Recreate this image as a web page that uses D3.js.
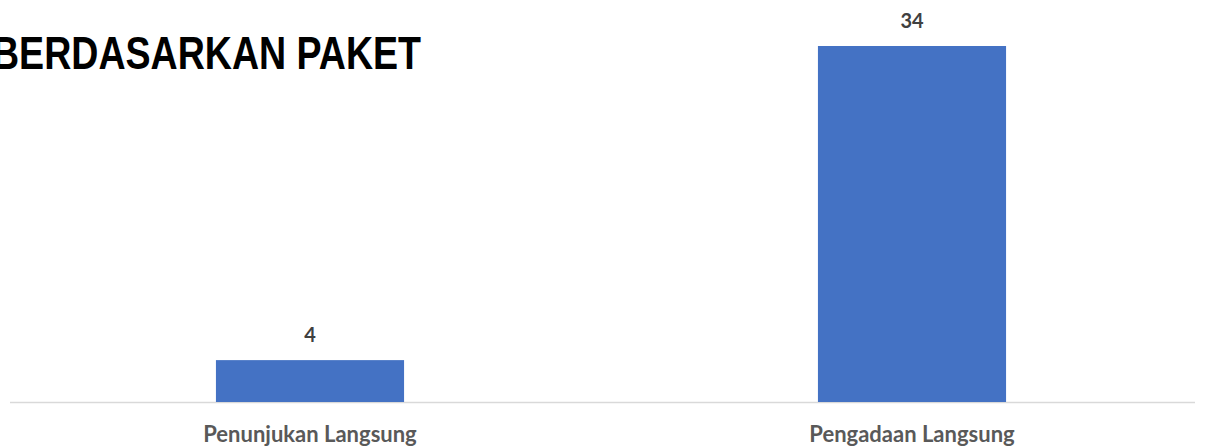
<!DOCTYPE html>
<html><head><meta charset="utf-8">
<script src="https://cdn.jsdelivr.net/npm/d3@7"></script>
<style>body{margin:0;background:#fff}svg{display:block}</style>
</head><body>
<script>
const categories = ["Penunjukan Langsung", "Pengadaan Langsung"];
const values = [4, 34];
const title = "BERDASARKAN PAKET";

const W = 1209, H = 447;
const svg = d3.select("body").append("svg").attr("width", W).attr("height", H);

const x = d3.scaleBand().domain(categories).range([9, 1213]).padding(0);
const y = d3.scaleLinear().domain([0, 34]).range([402, 46]);
const barW = x.bandwidth() * 0.3125;

svg.append("line").attr("x1", 10).attr("x2", 1195)
  .attr("y1", y(0) + 0.5).attr("y2", y(0) + 0.5)
  .attr("stroke", "#d9d9d9").attr("stroke-width", 1.5);

svg.selectAll("rect.bar").data(values).join("rect").attr("class", "bar")
  .attr("x", (d, i) => x(categories[i]) + x.bandwidth() / 2 - barW / 2)
  .attr("width", barW)
  .attr("y", d => y(d))
  .attr("height", d => y(0) - y(d))
  .attr("fill", "#4472C4");

svg.selectAll("text.val").data(values).join("text").attr("class", "val")
  .attr("x", (d, i) => x(categories[i]) + x.bandwidth() / 2)
  .attr("y", d => y(d) - 18)
  .attr("text-anchor", "middle")
  .attr("font-family", "Lato, 'Open Sans', sans-serif")
  .attr("font-weight", "bold").attr("font-size", 20)
  .attr("fill", "#404040")
  .text(d => d);

svg.selectAll("text.cat").data(categories).join("text").attr("class", "cat")
  .attr("x", d => x(d) + x.bandwidth() / 2)
  .attr("y", 442)
  .attr("text-anchor", "middle")
  .attr("font-family", "Lato, 'Open Sans', sans-serif")
  .attr("font-weight", "bold").attr("font-size", 22)
  .attr("fill", "#595959")
  .text(d => d);

svg.append("text").attr("x", -8).attr("y", 69)
  .attr("font-family", "'Liberation Sans', Arial, sans-serif")
  .attr("font-weight", "bold").attr("font-size", 47)
  .attr("textLength", 429).attr("lengthAdjust", "spacingAndGlyphs")
  .attr("fill", "#000")
  .text(title);
</script>
</body></html>
